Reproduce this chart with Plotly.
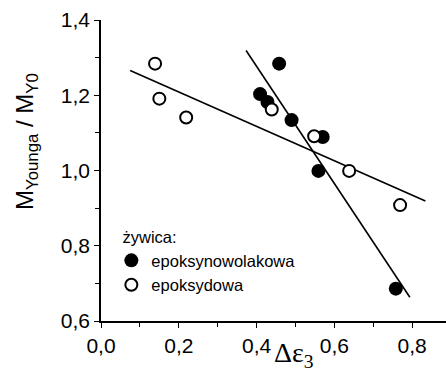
import plotly.graph_objects as go

# data
x_nowolak = [0.458, 0.409, 0.428, 0.490, 0.570, 0.559, 0.758]
y_nowolak = [1.284, 1.203, 1.182, 1.134, 1.089, 0.999, 0.686]
x_epoks = [0.139, 0.150, 0.219, 0.439, 0.548, 0.638, 0.769]
y_epoks = [1.284, 1.191, 1.141, 1.162, 1.091, 0.999, 0.908]
fit_nowolak_x = [0.373, 0.794]
fit_nowolak_y = [1.319, 0.663]
fit_epoks_x = [0.075, 0.834]
fit_epoks_y = [1.266, 0.919]
x_ticks = [0.0, 0.2, 0.4, 0.6, 0.8]
y_ticks = [0.6, 0.8, 1.0, 1.2, 1.4]

fig = go.Figure()
fig.add_trace(go.Scatter(x=fit_nowolak_x, y=fit_nowolak_y, mode="lines",
                         line=dict(color="black", width=1.6), showlegend=False))
fig.add_trace(go.Scatter(x=fit_epoks_x, y=fit_epoks_y, mode="lines",
                         line=dict(color="black", width=1.6), showlegend=False))
fig.add_trace(go.Scatter(x=x_nowolak, y=y_nowolak, mode="markers",
                         name="epoksynowolakowa",
                         marker=dict(symbol="circle", size=14, color="black",
                                     line=dict(width=0))))
fig.add_trace(go.Scatter(x=x_epoks, y=y_epoks, mode="markers",
                         name="epoksydowa",
                         marker=dict(symbol="circle", size=12, color="white",
                                     line=dict(width=2, color="black"))))

axis_common = dict(showline=True, linecolor="black", linewidth=1.5,
                   ticks="outside", ticklen=5, tickwidth=1.2, tickcolor="black",
                   showgrid=False, zeroline=False, mirror=False,
                   tickfont=dict(family="Liberation Sans, Arial", size=21, color="black"),
                   tickformat=".1f")
fig.update_xaxes(range=[0, 0.887], tickvals=x_ticks,
                 minor=dict(ticks="outside", ticklen=4, dtick=0.1, tick0=0,
                            tickcolor="black", tickwidth=1.2, showgrid=False),
                 **axis_common)
fig.update_yaxes(range=[0.6, 1.4], tickvals=y_ticks,
                 minor=dict(ticks="outside", ticklen=4, dtick=0.1, tick0=0,
                            tickcolor="black", tickwidth=1.2, showgrid=False),
                 **axis_common)

fig.add_annotation(text="M<sub>Younga</sub> / M<sub>Y0</sub>", xref="paper", yref="paper",
                   x=-0.265, y=0.595, textangle=-90, showarrow=False,
                   font=dict(family="Liberation Sans, Arial", size=24, color="black"))
fig.add_annotation(text="Δε<sub>3</sub>", xref="paper", yref="paper",
                   x=0.56, y=-0.177, yanchor="bottom", showarrow=False,
                   font=dict(family="Liberation Serif, Times New Roman", size=28, color="black"))

fig.update_layout(
    width=446, height=372,
    margin=dict(l=101, r=0, t=20, b=51),
    plot_bgcolor="white", paper_bgcolor="white",
    separators=", ",
    legend=dict(title=dict(text="&nbsp;&nbsp;żywica:", font=dict(family="Liberation Sans, Arial", size=16.5, color="black")),
                x=0.03, y=0.33, xanchor="left", yanchor="top",
                bgcolor="rgba(0,0,0,0)", tracegroupgap=0,
                font=dict(family="Liberation Sans, Arial", size=16.5, color="black")),
)

fig.write_html("out.html")
